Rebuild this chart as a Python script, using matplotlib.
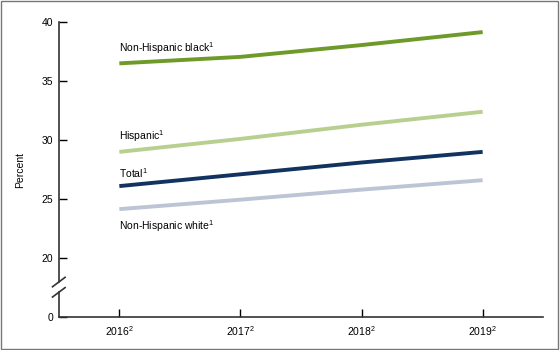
import matplotlib.pyplot as plt
from matplotlib.patches import Rectangle

plt.rcParams['font.family'] = ['Liberation Sans', 'DejaVu Sans']
plt.rcParams['mathtext.fontset'] = 'custom'
plt.rcParams['mathtext.rm'] = 'Liberation Sans'

years = [2016, 2017, 2018, 2019]
year_labels = [r'2016$^{\mathregular{2}}$', r'2017$^{\mathregular{2}}$',
               r'2018$^{\mathregular{2}}$', r'2019$^{\mathregular{2}}$']
black = [36.5, 37.05, 38.05, 39.15]
hispanic = [29.0, 30.1, 31.3, 32.4]
total = [26.1, 27.1, 28.1, 29.0]
white = [24.15, 24.95, 25.8, 26.6]

fig = plt.figure(figsize=(5.6, 3.5), dpi=100)
ax = fig.add_axes([0.105, 0.094, 0.865, 0.843])

lw = 2.8
ax.plot(years, black, color='#6e9a2a', lw=lw, solid_capstyle='butt')
ax.plot(years, hispanic, color='#b8d08f', lw=lw, solid_capstyle='butt')
ax.plot(years, total, color='#12335f', lw=lw, solid_capstyle='butt')
ax.plot(years, white, color='#bcc4d6', lw=lw, solid_capstyle='butt')

fs = 7.5
sup = r'$^{\mathregular{1}}$'
ax.text(2016, 37.15, 'Non-Hispanic black' + sup, fontsize=fs, va='bottom')
ax.text(2016, 29.65, 'Hispanic' + sup, fontsize=fs, va='bottom')
ax.text(2016, 26.65, 'Total' + sup, fontsize=fs, va='bottom')
ax.text(2016, 23.35, 'Non-Hispanic white' + sup, fontsize=fs, va='top')

ax.set_xlim(2015.5, 2019.5)
ax.set_ylim(15, 40)
ax.set_xticks(years)
ax.set_xticklabels(year_labels)
ax.set_yticks([15, 20, 25, 30, 35, 40])
ax.set_yticklabels(['0', '20', '25', '30', '35', '40'])
ax.tick_params(axis='both', direction='in', length=6, width=1, labelsize=7.5, colors='black')
ax.tick_params(axis='x', pad=5)
ax.tick_params(axis='y', pad=4)
ax.set_ylabel('Percent', fontsize=7.5, labelpad=12)

for s in ['top', 'right', 'left']:
    ax.spines[s].set_visible(False)
ax.spines['bottom'].set_color('#333333')
ax.spines['bottom'].set_linewidth(1.2)

# broken y axis
tr = ax.get_yaxis_transform()
ax.plot([0, 0], [15, 17.1], transform=tr, color='#333333', lw=1.2, clip_on=False)
ax.plot([0, 0], [17.97, 40], transform=tr, color='#333333', lw=1.2, clip_on=False)
for yb in [17.1, 17.97]:
    ax.plot([-0.013, 0.013], [yb - 0.4, yb + 0.4], transform=tr, color='#333333', lw=1.2, clip_on=False)

fig.patches.append(Rectangle((0.002, 0.003), 0.995, 0.993, transform=fig.transFigure,
                             fill=False, edgecolor='#777777', lw=1))

fig.savefig('out.png', dpi=100)
